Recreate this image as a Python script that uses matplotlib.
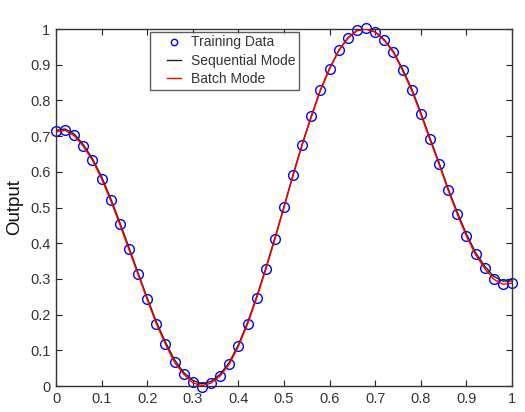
import matplotlib
matplotlib.use("Agg")
import matplotlib.pyplot as plt
from matplotlib.legend_handler import HandlerLine2D

x_train = [0.00, 0.02, 0.04, 0.06, 0.08, 0.10, 0.12, 0.14, 0.16, 0.18,
           0.20, 0.22, 0.24, 0.26, 0.28, 0.30, 0.32, 0.34, 0.36, 0.38,
           0.40, 0.42, 0.44, 0.46, 0.48, 0.50, 0.52, 0.54, 0.56, 0.58,
           0.60, 0.62, 0.64, 0.66, 0.68, 0.70, 0.72, 0.74, 0.76, 0.78,
           0.80, 0.82, 0.84, 0.86, 0.88, 0.90, 0.92, 0.94, 0.96, 0.98, 1.00]
y_train = [0.713, 0.718, 0.702, 0.672, 0.634, 0.581, 0.520, 0.453, 0.383, 0.313,
           0.243, 0.175, 0.118, 0.067, 0.034, 0.010, -0.002, 0.009, 0.029, 0.062,
           0.112, 0.174, 0.247, 0.327, 0.412, 0.501, 0.591, 0.676, 0.755, 0.829,
           0.889, 0.940, 0.975, 0.996, 1.002, 0.992, 0.969, 0.935, 0.884, 0.829,
           0.762, 0.691, 0.622, 0.549, 0.482, 0.421, 0.369, 0.330, 0.300, 0.286, 0.289]
y_sequential = [0.716, 0.720, 0.706, 0.676, 0.637, 0.586, 0.525, 0.458, 0.388, 0.317,
                0.247, 0.180, 0.123, 0.073, 0.038, 0.016, 0.006, 0.013, 0.033, 0.066,
                0.116, 0.178, 0.250, 0.330, 0.415, 0.503, 0.593, 0.678, 0.757, 0.830,
                0.890, 0.940, 0.975, 0.996, 1.000, 0.992, 0.970, 0.937, 0.888, 0.833,
                0.766, 0.695, 0.626, 0.553, 0.487, 0.426, 0.374, 0.336, 0.307, 0.294, 0.294]
y_batch = [0.712, 0.716, 0.701, 0.671, 0.632, 0.580, 0.519, 0.452, 0.382, 0.312,
           0.242, 0.174, 0.117, 0.066, 0.033, 0.009, 0.001, 0.008, 0.028, 0.061,
           0.111, 0.173, 0.246, 0.326, 0.411, 0.500, 0.590, 0.675, 0.754, 0.828,
           0.888, 0.939, 0.974, 0.995, 1.000, 0.991, 0.968, 0.934, 0.883, 0.828,
           0.761, 0.690, 0.621, 0.548, 0.481, 0.420, 0.368, 0.329, 0.299, 0.285, 0.288]

x_ticks = [0, 0.1, 0.2, 0.3, 0.4, 0.5, 0.6, 0.7, 0.8, 0.9, 1]
x_ticklabels = ["0", "0.1", "0.2", "0.3", "0.4", "0.5", "0.6", "0.7", "0.8", "0.9", "1"]
y_ticks = [0, 0.1, 0.2, 0.3, 0.4, 0.5, 0.6, 0.7, 0.8, 0.9, 1]
y_ticklabels = ["0", "0.1", "0.2", "0.3", "0.4", "0.5", "0.6", "0.7", "0.8", "0.9", "1"]

plt.rcParams['font.family'] = ['Liberation Sans', 'DejaVu Sans']

fig = plt.figure(figsize=(5.25, 4.12), dpi=100)
ax = fig.add_axes([0.1067, 0.0631, 0.8685, 0.8665])

ax.plot(x_train, y_train, linestyle='none', marker='o', markersize=7,
        markerfacecolor='none', markeredgecolor='#0000ff', markeredgewidth=1.0,
        label='Training Data', zorder=2, clip_on=False)
ax.plot(x_train, y_sequential, color='#222222', linewidth=1.0,
        label='Sequential Mode', zorder=3)
ax.plot(x_train, y_batch, color='#ff0000', linewidth=1.0,
        label='Batch Mode', zorder=4)

ax.set_xlim(0, 1)
ax.set_ylim(0, 1)
ax.set_xticks(x_ticks)
ax.set_xticklabels(x_ticklabels)
ax.set_yticks(y_ticks)
ax.set_yticklabels(y_ticklabels)
ax.tick_params(direction='in', top=True, right=True, length=4, width=0.8,
               labelsize=10.5, colors='#222222', labelcolor='#333333', pad=4)
for s in ax.spines.values():
    s.set_color('#333333')
    s.set_linewidth(1.0)

ax.set_ylabel('Output', fontsize=13.5, color='#111111', labelpad=5)

hmap = {h: HandlerLine2D(xpad=0.98) for h in ax.get_lines()}
leg = ax.legend(loc='upper left', bbox_to_anchor=(0.206, 0.9916), fontsize=10,
                frameon=True, fancybox=False, edgecolor='#333333',
                borderpad=0.25, labelspacing=0.31, handlelength=1.99,
                handletextpad=0.72, borderaxespad=0.0, markerscale=0.65,
                handler_map=hmap)
leg.get_frame().set_linewidth(1.0)
for t in leg.get_texts():
    t.set_color('#333333')

fig.savefig('out.png', dpi=100)
